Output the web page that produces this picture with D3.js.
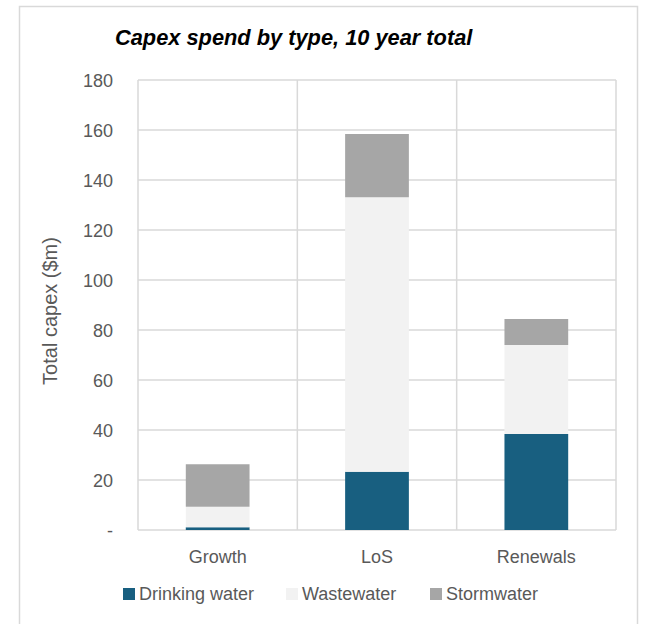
<!DOCTYPE html>
<html><head><meta charset="utf-8">
<script src="https://cdn.jsdelivr.net/npm/d3@7"></script>
<style>body{margin:0;background:#fff}</style>
</head><body>
<svg id="c" width="645" height="624"></svg>
<script>
const categories = ["Growth", "LoS", "Renewals"];
const seriesNames = ["Drinking water", "Wastewater", "Stormwater"];
const drinkingWater = [1.1, 23.3, 38.4];
const wastewater = [8.2, 109.8, 35.6];
const stormwater = [17.0, 25.3, 10.4];
const yTicks = [0, 20, 40, 60, 80, 100, 120, 140, 160, 180];
const colors = ["#185f80", "#f2f2f2", "#a6a6a6"];

const svg = d3.select("#c");
const font = "'Liberation Sans', Arial, sans-serif";
const txt = "#595959";
// outer border (bottom edge runs past the canvas)
svg.append("rect").attr("x", 19.5).attr("y", 6.5).attr("width", 618).attr("height", 630)
  .attr("fill", "#fff").attr("stroke", "#d9d9d9").attr("stroke-width", 1.5);

const m = {left: 138, right: 616, top: 80, bottom: 530};
const x = d3.scaleBand().domain(categories).range([m.left, m.right]).paddingInner(0).paddingOuter(0);
const y = d3.scaleLinear().domain([0, 180]).range([m.bottom, m.top]);

const rows = categories.map((c, i) => ({cat: c, "Drinking water": drinkingWater[i], "Wastewater": wastewater[i], "Stormwater": stormwater[i]}));
const stack = d3.stack().keys(seriesNames)(rows);

const g = svg.append("g");
// horizontal gridlines
g.selectAll(".hg").data(yTicks).join("line")
  .attr("x1", m.left).attr("x2", m.right)
  .attr("y1", d => y(d)).attr("y2", d => y(d))
  .attr("stroke", "#d9d9d9").attr("stroke-width", 1.5);
// vertical gridlines at category boundaries
const vx = categories.map(c => x(c)).concat([m.right]);
g.selectAll(".vg").data(vx).join("line")
  .attr("x1", d => d).attr("x2", d => d)
  .attr("y1", m.top).attr("y2", m.bottom)
  .attr("stroke", "#d9d9d9").attr("stroke-width", 1.5);

// bars
const bw = x.bandwidth() * 0.4;
stack.forEach((s, si) => {
  g.selectAll(".b" + si).data(s).join("rect")
    .attr("x", d => x(d.data.cat) + (x.bandwidth() - bw) / 2)
    .attr("width", bw)
    .attr("y", d => y(d[1]))
    .attr("height", d => y(d[0]) - y(d[1]))
    .attr("fill", colors[si]);
});

// y axis labels
const yAxis = d3.axisLeft(y).tickValues(yTicks).tickSize(0).tickPadding(0)
  .tickFormat(d => d === 0 ? "-" : d);
const ya = svg.append("g").attr("transform", "translate(113,0)").call(yAxis);
ya.select(".domain").remove();
ya.selectAll("text").attr("font-family", font).attr("font-size", 18).attr("fill", txt).attr("dy", "0.36em");

// x axis labels
const xAxis = d3.axisBottom(x).tickSize(0).tickPadding(0);
const xa = svg.append("g").attr("transform", "translate(0,563)").call(xAxis);
xa.select(".domain").remove();
xa.selectAll("text").attr("font-family", font).attr("font-size", 18).attr("fill", txt).attr("y", 0).attr("dy", 0);

// y title
svg.append("text").attr("transform", "translate(57,311) rotate(-90)")
  .attr("text-anchor", "middle").attr("font-family", font).attr("font-size", 20).attr("fill", txt)
  .text("Total capex ($m)");

// title
svg.append("text").attr("x", 115).attr("y", 45)
  .attr("font-family", font)
  .attr("font-weight", "bold").attr("font-style", "italic").attr("font-size", 21.8).attr("fill", "#000")
  .text("Capex spend by type, 10 year total");

// legend
const legX = [123, 286, 430];
const lg = svg.append("g");
seriesNames.forEach((n, i) => {
  lg.append("rect").attr("x", legX[i]).attr("y", 588).attr("width", 12).attr("height", 12).attr("fill", colors[i]);
  lg.append("text").attr("x", legX[i] + 16).attr("y", 600).attr("font-family", font).attr("font-size", 18)
    .attr("fill", txt).text(n);
});
</script>
</body></html>
